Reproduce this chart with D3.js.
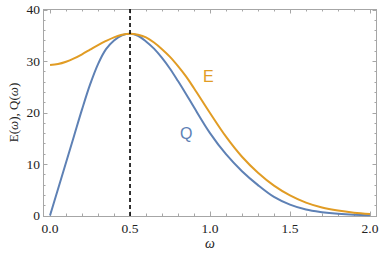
<!DOCTYPE html>
<html>
<head>
<meta charset="utf-8">
<script src="https://cdn.jsdelivr.net/npm/d3@7"></script>
<style>
body { margin: 0; background: #fff; }
</style>
</head>
<body>
<script>
var width = 382;
var height = 262;

var margin = {top: 9, left: 43, right: 5, bottom: 46};

// data
var omega  = [0, 0.05, 0.1, 0.15, 0.2, 0.25, 0.3, 0.35, 0.4, 0.45, 0.5, 0.55, 0.6, 0.65, 0.7, 0.75, 0.8, 0.85, 0.9, 1.0, 1.1, 1.2, 1.3, 1.4, 1.5, 1.6, 1.7, 1.8, 1.9, 2.0];
var energy = [29.2, 29.4, 29.85, 30.5, 31.3, 32.2, 33.1, 33.9, 34.6, 35.1, 35.3, 35.1, 34.6, 33.6, 32.3, 30.8, 29.0, 27.0, 24.7, 19.9, 15.3, 11.4, 8.3, 5.8, 3.9, 2.5, 1.55, 0.95, 0.55, 0.3];
var charge = [0, 5.15, 10.3, 15.45, 20.6, 25.4, 29.4, 32.3, 34.0, 35.0, 35.3, 34.9, 33.8, 32.4, 30.6, 28.5, 26.1, 23.6, 21.0, 16.0, 11.9, 8.6, 5.9, 3.6, 2.1, 1.15, 0.65, 0.33, 0.14, 0.05];
var xTicks = [0, 0.5, 1.0, 1.5, 2.0];
var yTicks = [0, 10, 20, 30, 40];
var markLine = 0.5;

var svg = d3.select("body")
  .append("svg")
  .attr("width", width)
  .attr("height", height);

var xScale = d3.scaleLinear()
  .domain([-0.044, 2.044])
  .range([margin.left, width - margin.right]);

var yScale = d3.scaleLinear()
  .domain([0, 40])
  .range([height - margin.bottom - 0.5, margin.top + 0.5]);

var x0 = margin.left, x1 = width - margin.right;
var y0 = height - margin.bottom, y1 = margin.top;

var frameColor = "#a6a6a6";

// minor + major ticks, pointing inward on all four sides
var xMinor = d3.range(0, 2.0001, 0.1);
var yMinor = d3.range(0, 40.001, 2);

function isMajor(v, step) { return Math.abs(v / step - Math.round(v / step)) < 1e-6; }

var ticks = svg.append("g").attr("stroke", frameColor).attr("stroke-width", 1);

xMinor.forEach(function(v) {
  var len = isMajor(v, 0.5) ? 4.5 : 2.5;
  var px = Math.round(xScale(v)) + 0.5;
  ticks.append("line").attr("x1", px).attr("x2", px).attr("y1", y0).attr("y2", y0 - len);
  ticks.append("line").attr("x1", px).attr("x2", px).attr("y1", y1).attr("y2", y1 + len);
});
yMinor.forEach(function(v) {
  var len = isMajor(v, 10) ? 4.5 : 2.5;
  var py = Math.round(yScale(v)) + 0.5;
  ticks.append("line").attr("x1", x0).attr("x2", x0 + len).attr("y1", py).attr("y2", py);
  ticks.append("line").attr("x1", x1).attr("x2", x1 - len).attr("y1", py).attr("y2", py);
});

// frame
svg.append("rect")
  .attr("x", x0 + 0.5)
  .attr("y", y1 + 0.5)
  .attr("width", x1 - x0 - 1)
  .attr("height", y0 - y1)
  .attr("fill", "none")
  .attr("stroke", frameColor)
  .attr("stroke-width", 1);

// tick labels
svg.append("g")
  .selectAll("text")
  .data(xTicks)
  .enter()
  .append("text")
  .attr("x", function(d) { return xScale(d); })
  .attr("y", y0 + 17)
  .attr("text-anchor", "middle")
  .attr("font-family", "Liberation Serif, serif")
  .attr("font-size", 13.5)
  .attr("fill", "#222")
  .text(function(d) { return d.toFixed(1); });

svg.append("g")
  .selectAll("text")
  .data(yTicks)
  .enter()
  .append("text")
  .attr("x", x0 - 3)
  .attr("y", function(d) { return yScale(d) + 4.5; })
  .attr("text-anchor", "end")
  .attr("font-family", "Liberation Serif, serif")
  .attr("font-size", 13.5)
  .attr("fill", "#222")
  .text(function(d) { return d; });

// axis labels
svg.append("text")
  .attr("x", (xScale(0) + xScale(2)) / 2)
  .attr("y", 248)
  .attr("text-anchor", "middle")
  .attr("font-family", "Liberation Serif, serif")
  .attr("font-style", "italic")
  .attr("font-size", 14)
  .attr("fill", "#222")
  .text("ω");

var ylab = svg.append("text")
  .attr("transform", "translate(18," + ((y0 + y1) / 2) + ") rotate(-90)")
  .attr("text-anchor", "middle")
  .attr("font-family", "Liberation Serif, serif")
  .attr("font-size", 13)
  .attr("fill", "#222");
ylab.append("tspan").text("E(");
ylab.append("tspan").attr("font-style", "italic").text("ω");
ylab.append("tspan").text("), Q(");
ylab.append("tspan").attr("font-style", "italic").text("ω");
ylab.append("tspan").text(")");

// curves
var line = d3.line()
  .x(function(d) { return xScale(d[0]); })
  .y(function(d) { return yScale(d[1]); })
  .curve(d3.curveCatmullRom.alpha(0.5));

var blue = "#5e81b5";
var orange = "#e19c24";

svg.append("path")
  .datum(omega.map(function(w, i) { return [w, charge[i]]; }))
  .attr("d", line)
  .attr("fill", "none")
  .attr("stroke", blue)
  .attr("stroke-width", 2);

svg.append("path")
  .datum(omega.map(function(w, i) { return [w, energy[i]]; }))
  .attr("d", line)
  .attr("fill", "none")
  .attr("stroke", orange)
  .attr("stroke-width", 2);

// dashed marker
svg.append("line")
  .attr("x1", xScale(markLine))
  .attr("x2", xScale(markLine))
  .attr("y1", y1)
  .attr("y2", y0)
  .attr("stroke", "black")
  .attr("stroke-width", 1.6)
  .attr("stroke-dasharray", "4,3");

// curve labels
svg.append("text")
  .attr("x", 203)
  .attr("y", 82)
  .attr("font-family", "Liberation Sans, Arial, sans-serif")
  .attr("font-size", 16)
  .attr("fill", orange)
  .text("E");

svg.append("text")
  .attr("x", 180)
  .attr("y", 139)
  .attr("font-family", "Liberation Sans, Arial, sans-serif")
  .attr("font-size", 16)
  .attr("fill", blue)
  .text("Q");
</script>
</body>
</html>
